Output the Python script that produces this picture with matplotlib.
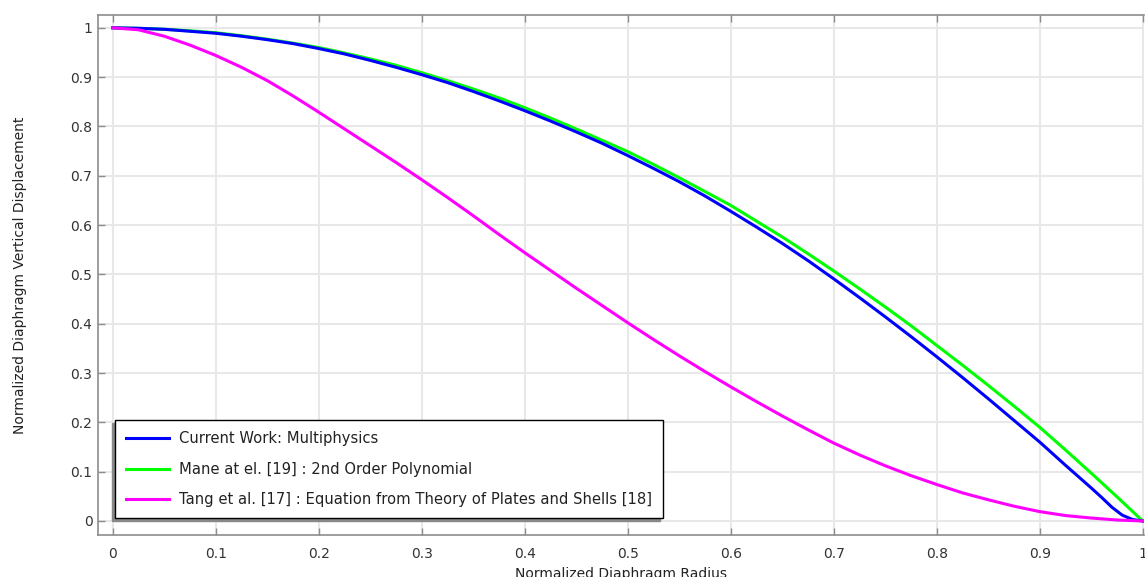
import matplotlib
matplotlib.use("Agg")
from matplotlib import pyplot as plt

# normalized radius and displacement
r = [0.0, 0.025, 0.05, 0.075, 0.1, 0.125, 0.15, 0.175, 0.2, 0.225, 0.25,
     0.275, 0.3, 0.325, 0.35, 0.375, 0.4, 0.425, 0.45, 0.475, 0.5,
     0.525, 0.55, 0.575, 0.6, 0.625, 0.65, 0.675, 0.7, 0.725, 0.75,
     0.775, 0.8, 0.825, 0.85, 0.875, 0.9, 0.925, 0.95, 0.975, 1.0]
mane = [1.0, 0.999, 0.997, 0.994, 0.99, 0.984, 0.977, 0.969, 0.96, 0.949, 0.937,
        0.924, 0.909, 0.893, 0.876, 0.858, 0.838, 0.817, 0.795, 0.772, 0.749,
        0.723, 0.696, 0.668, 0.640, 0.608, 0.576, 0.542, 0.507, 0.471, 0.434,
        0.396, 0.356, 0.316, 0.275, 0.233, 0.190, 0.144, 0.097, 0.049, 0.0]
tang = [1.0, 0.996, 0.983, 0.965, 0.944, 0.92, 0.893, 0.862, 0.829, 0.795, 0.761,
        0.727, 0.692, 0.656, 0.619, 0.581, 0.544, 0.508, 0.472, 0.437, 0.402,
        0.368, 0.335, 0.303, 0.272, 0.242, 0.213, 0.185, 0.158, 0.134, 0.112,
        0.092, 0.074, 0.057, 0.043, 0.030, 0.019, 0.011, 0.006, 0.002, 0.0]

r_cw = [0.0, 0.025, 0.05, 0.075, 0.1, 0.125, 0.15, 0.175, 0.2, 0.225, 0.25,
        0.275, 0.3, 0.325, 0.35, 0.375, 0.4, 0.425, 0.45, 0.475, 0.5,
        0.525, 0.55, 0.575, 0.6, 0.625, 0.65, 0.675, 0.7, 0.725, 0.75,
        0.775, 0.8, 0.825, 0.85, 0.875, 0.9, 0.925, 0.95, 0.96, 0.97,
        0.98, 0.99, 1.0]
current = [1.0, 0.999, 0.997, 0.993, 0.989, 0.983, 0.976, 0.968, 0.958, 0.947, 0.934,
           0.92, 0.905, 0.889, 0.871, 0.852, 0.832, 0.811, 0.789, 0.766, 0.741,
           0.715, 0.688, 0.659, 0.628, 0.596, 0.563, 0.528, 0.491, 0.453, 0.414,
           0.374, 0.333, 0.291, 0.248, 0.204, 0.160, 0.113, 0.067, 0.048, 0.028,
           0.012, 0.003, 0.0]

labels = ["Current Work: Multiphysics",
          "Mane at el. [19] : 2nd Order Polynomial",
          "Tang et al. [17] : Equation from Theory of Plates and Shells [18]"]
ticks = [0, 0.1, 0.2, 0.3, 0.4, 0.5, 0.6, 0.7, 0.8, 0.9, 1]
tick_text = ["0", "0.1", "0.2", "0.3", "0.4", "0.5", "0.6", "0.7", "0.8", "0.9", "1"]

fig = plt.figure(figsize=(11.45, 5.77), dpi=100)
ax = fig.add_axes([0.0856, 0.0728, 0.9136, 0.9012])

ax.plot(r_cw, current, color="#0000ff", lw=2.2, label=labels[0], zorder=3)
ax.plot(r, mane, color="#00ff00", lw=2.2, label=labels[1], zorder=2)
ax.plot(r, tang, color="#ff00ff", lw=2.2, label=labels[2], zorder=3)

ax.set_xlim(-0.0143, 1.0013)
ax.set_ylim(-0.0284, 1.026)
ax.set_xticks(ticks)
ax.set_xticklabels(tick_text)
ax.set_yticks(ticks)
ax.set_yticklabels(tick_text)

ax.grid(True, color="#e8e8e8", lw=1.5)
ax.set_axisbelow(True)
for s in ax.spines.values():
    s.set_color("#8c8c8c")
    s.set_linewidth(1.2)
ax.spines["right"].set_visible(False)

ax.tick_params(axis="x", direction="in", top=True, length=5, width=1,
               color="#8c8c8c", labelcolor="#333333", labelsize=10, pad=9)
ax.tick_params(axis="y", direction="in", length=5, width=1,
               color="#8c8c8c", labelcolor="#333333", labelsize=10, pad=4)

ax.set_xlabel("Normalized Diaphragm Radius", fontsize=10, color="#222222", labelpad=4)
ax.set_ylabel("Normalized Diaphragm Vertical Displacement", fontsize=10, color="#222222")
ax.yaxis.set_label_coords(-0.068, 0.5)

leg = ax.legend(loc="lower left", bbox_to_anchor=(0.0165, 0.032), borderaxespad=0,
                fontsize=10.6, fancybox=False, edgecolor="black", framealpha=1,
                handlelength=2.9, handletextpad=0.65, labelspacing=1.05,
                borderpad=0.75,
                shadow={"ox": -2, "oy": -2, "color": "#888888", "alpha": 1})
leg.get_frame().set_linewidth(1.0)
for t in leg.get_texts():
    t.set_color("#222222")

fig.savefig("out.png", dpi=100)
